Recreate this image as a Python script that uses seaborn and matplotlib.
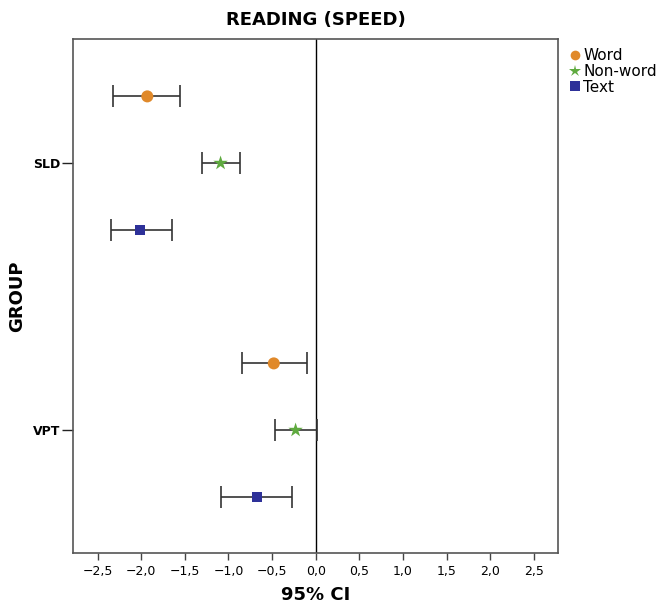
import numpy as np
import pandas as pd
import matplotlib
matplotlib.use("Agg")
import matplotlib.pyplot as plt
import seaborn as sns
from matplotlib.ticker import FuncFormatter

# ================= DATA =================
groups = ["SLD", "VPT"]
measures = ["Word", "Non-word", "Text"]

# mean effect and 95% CI bounds, per group (rows) and measure (cols)
means = [[-1.93, -1.09, -2.01],
         [-0.48, -0.23, -0.67]]
ci_low = [[-2.32, -1.30, -2.35],
          [-0.85, -0.47, -1.08]]
ci_high = [[-1.55, -0.87, -1.65],
           [-0.10, 0.01, -0.27]]
# ========================================

COLORS = {"Word": "#E0892A", "Non-word": "#5FAA3F", "Text": "#2E3199"}
MARKERS = {"Word": "o", "Non-word": "*", "Text": "s"}
SIZES = {"Word": 75, "Non-word": 120, "Text": 55}
OFFSETS = {"Word": -0.25, "Non-word": 0.0, "Text": 0.25}

rows = []
for gi, g in enumerate(groups):
    for mi, m in enumerate(measures):
        rows.append({
            "group": g, "measure": m,
            "mean": means[gi][mi], "lo": ci_low[gi][mi], "hi": ci_high[gi][mi],
            "ypos": gi + OFFSETS[m],
        })
df = pd.DataFrame(rows)

sns.set_style("white")
plt.rcParams["font.family"] = ["DejaVu Sans"]
plt.rcParams["text.color"] = "black"
plt.rcParams["axes.labelcolor"] = "black"
plt.rcParams["xtick.color"] = "black"
plt.rcParams["ytick.color"] = "black"

fig = plt.figure(figsize=(6.59, 6.09), dpi=100)
ax = fig.add_axes([0.111, 0.092, 0.736, 0.844])

# confidence intervals
ax.errorbar(df["mean"], df["ypos"],
            xerr=[df["mean"] - df["lo"], df["hi"] - df["mean"]],
            fmt="none", ecolor="#333333", elinewidth=1.2,
            capsize=8, capthick=1.2, zorder=2)

sns.scatterplot(data=df, x="mean", y="ypos", hue="measure", style="measure",
                size="measure", sizes=SIZES, size_order=measures,
                palette=COLORS, markers=MARKERS, hue_order=measures,
                style_order=measures, edgecolor="none", ax=ax, zorder=3,
                legend=False)

ax.axvline(0, color="black", lw=1, zorder=1)

ax.set_xlim(-2.78, 2.78)
ax.set_ylim(1.46, -0.465)
ax.set_xticks(np.arange(-2.5, 2.51, 0.5))
ax.xaxis.set_major_formatter(FuncFormatter(lambda v, p: f"{v:.1f}".replace(".", ",").replace("-", "\u2212")))
ax.set_yticks(range(len(groups)))
ax.set_yticklabels(groups, fontweight="bold", fontsize=9)
ax.tick_params(axis="x", labelsize=9, length=5, width=1, direction="out", color="#444444")
ax.tick_params(axis="y", length=8, width=1, direction="out", color="#222222", pad=1)
ax.xaxis.set_ticks_position("bottom")
ax.yaxis.set_ticks_position("left")

for sp in ax.spines.values():
    sp.set_color("#555555")
    sp.set_linewidth(1.2)

ax.set_title("READING (SPEED)", fontsize=13, fontweight="bold", pad=10)
ax.set_xlabel("95% CI", fontsize=13, fontweight="bold", labelpad=6)
ax.set_ylabel("GROUP", fontsize=13, fontweight="bold")
ax.yaxis.set_label_coords(-0.097, 0.5)

# legend with one handle per measure
handles = [plt.Line2D([], [], ls="none", marker=MARKERS[m], color=COLORS[m],
                      markersize=7 if m != "Non-word" else 9, markeredgewidth=0)
           for m in measures]
ax.legend(handles, measures, loc="upper left", bbox_to_anchor=(1.0, 1.0),
          frameon=False, fontsize=11, handletextpad=0.05,
          borderaxespad=0.2, labelspacing=0.05, handlelength=1.0)

fig.savefig("out.png", dpi=100)
